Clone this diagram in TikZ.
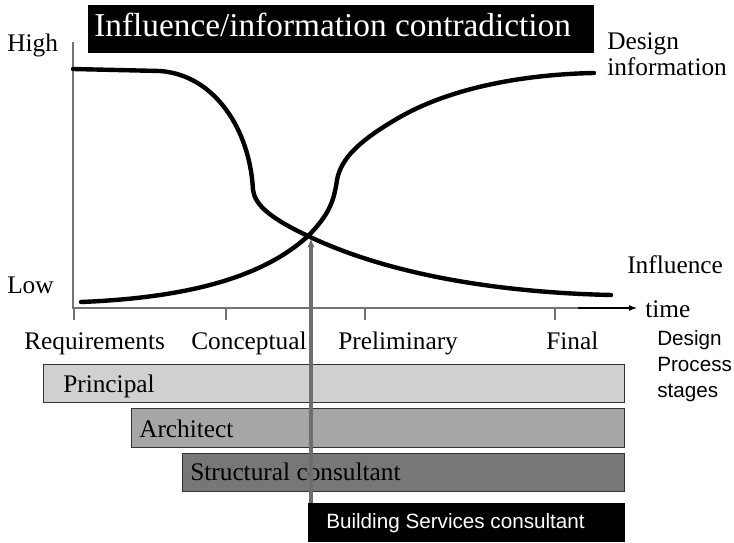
\documentclass[tikz,border=0pt]{standalone}
\usepackage{fontspec}
\setmainfont{Liberation Serif}
\setsansfont{Liberation Sans}
\usepackage{xcolor}
\usetikzlibrary{arrows.meta}

\definecolor{principalfill}{HTML}{D0D0D0}
\definecolor{architectfill}{HTML}{A6A6A6}
\definecolor{structfill}{HTML}{777777}
\definecolor{markgray}{HTML}{6E6E6E}

\tikzset{
  lbl/.style={inner sep=0pt, anchor=base west, font=\fontsize{19}{23}\selectfont},
  sanslbl/.style={inner sep=0pt, anchor=base west, font=\sffamily\fontsize{15.5}{19}\selectfont},
  curve/.style={line width=3.3pt, line cap=round, line join=round},
  axis/.style={draw=black!55, line width=0.8pt},
  stagebar/.style={draw=black!80, line width=0.6pt}
}

\begin{document}
\begin{tikzpicture}[x=0.75pt,y=-0.75pt]
    \useasboundingbox (0,0) rectangle (734,542);

    % Title box
    \fill[black] (88,5) rectangle (594,53);
    \node[lbl, text=white, font=\fontsize{25}{30}\selectfont] (title) at (94,37) {Influence/information contradiction};

    % Axes
    \coordinate (origin) at (73,308);
    \coordinate (ytop) at (73,42);
    \coordinate (xend) at (578,308);
    \draw[axis] (ytop) -- (origin) -- (xend);
    \node[lbl] (time) at (645,317) {time};
    \draw[line width=0.8pt, -{Latex[length=6pt,width=4.5pt]}, shorten >=6pt] (xend) -- (time.west |- xend);
    \foreach \x in {74,226,365,555}
        \draw[axis] (\x,308) -- (\x,320);

    \node[lbl] (high) at (7,51) {High};
    \node[lbl] (low) at (7,293) {Low};

    % Curves
    \coordinate (cross) at (308,236);
    \draw[curve] (73,69) -- (160,71) .. controls (215,75) and (250,130) .. (253,190)
        .. controls (255,205) and (270,218) .. (cross)
        .. controls (400,280) and (520,293) .. (611,295);
    \draw[curve] (81,302) .. controls (180,298) and (260,280) .. (cross)
        .. controls (330,214) and (334,200) .. (337,180)
        .. controls (341,158) and (360,140) .. (400,117)
        .. controls (460,83) and (540,74) .. (594,73);

    \node[lbl] (design) at (607,50) {Design};
    \node[lbl] (information) at (607,75) {information};
    \node[lbl] (influence) at (627,273) {Influence};

    % Stage labels
    \node[lbl] (requirements) at (24,349) {Requirements};
    \node[lbl] (conceptual) at (191,349) {Conceptual};
    \node[lbl] (preliminary) at (338,349) {Preliminary};
    \node[lbl] (final) at (546,349) {Final};
    \node[sanslbl] (dps1) at (657,345) {Design};
    \node[sanslbl] (dps2) at (657,371) {Process};
    \node[sanslbl] (dps3) at (657,397) {stages};

    % Participant bars
    \draw[stagebar, fill=principalfill] (43,364) rectangle (624,402);
    \node[lbl] (principal) at (63,392) {Principal};
    \draw[stagebar, fill=architectfill] (131,408) rectangle (624,447);
    \node[lbl] (architect) at (139,437) {Architect};
    \draw[stagebar, fill=structfill] (182,453) rectangle (624,491);
    \node[lbl] (structural) at (190,480) {Structural consultant};
    \fill[black] (308,503) rectangle (625,542);
    \node[sanslbl, text=white] (services) at (326,528) {Building Services consultant};

    % Marker from services to crossing
    \coordinate (marktip) at (311,238);
    \coordinate (servicestop) at (311,503);
    \draw[markgray, line width=2.3pt, -{Latex[length=7pt,width=5.5pt]}] (servicestop) -- (marktip);
\end{tikzpicture}
\end{document}
